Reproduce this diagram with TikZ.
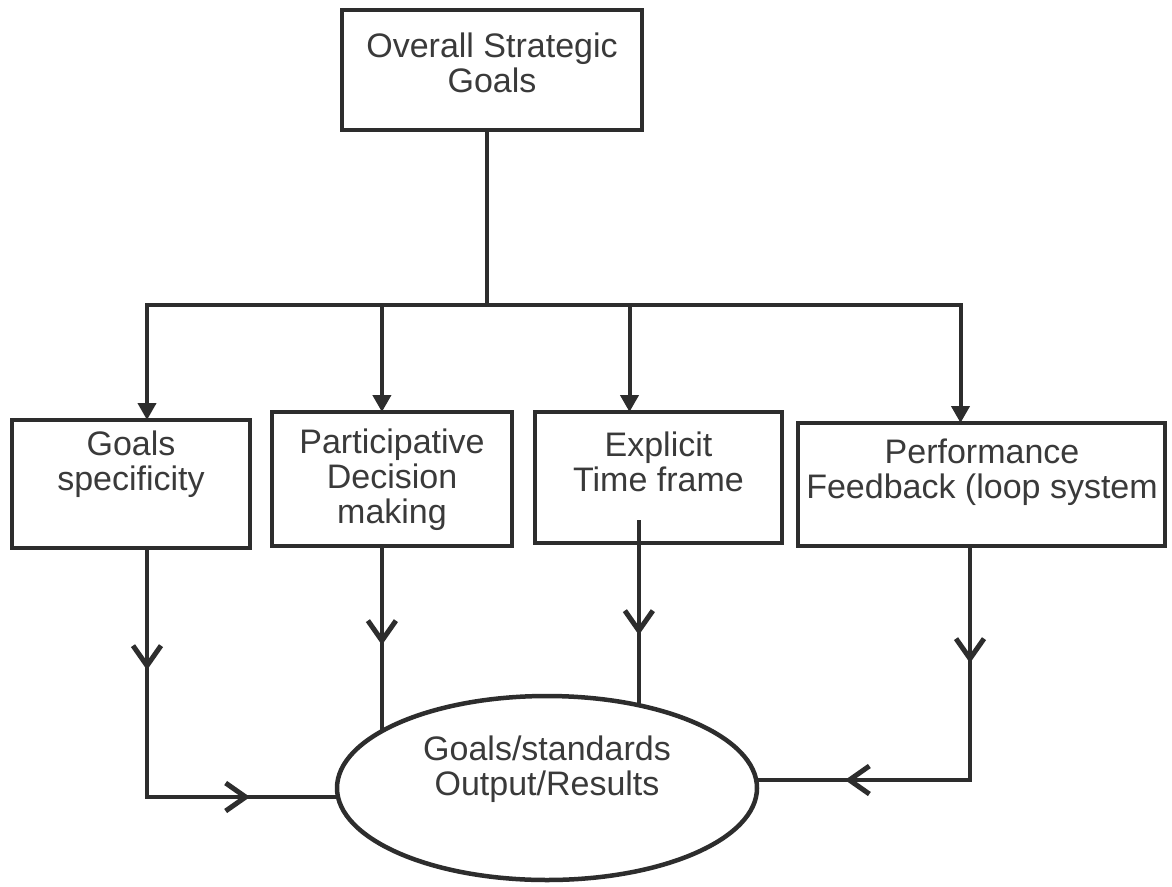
\documentclass[tikz,border=0pt]{standalone}
\usepackage{fontspec}
\setmainfont{Liberation Sans}
\usetikzlibrary{arrows.meta,shapes.geometric,decorations.markings}
\definecolor{ink}{RGB}{45,45,45}
\definecolor{txtc}{RGB}{58,58,58}
\begin{document}
\begin{tikzpicture}[x=1pt,y=-1pt,
  box/.style={draw=ink,line width=4.5pt,inner sep=0pt,outer sep=0pt},
  txt/.style={font=\fontsize{34}{35}\selectfont,text=txtc,align=center,inner sep=0pt},
  conn/.style={draw=ink,line width=4pt},
  tri/.style={conn,-{Triangle[length=17pt,width=18pt]}},
  vmark/.style={postaction={decorate},decoration={markings,
     mark=at position #1 with {\arrow{Straight Barb[length=20pt,width=28pt,line width=5pt]}}}},
  vmarktwo/.style 2 args={postaction={decorate},decoration={markings,
     mark=at position #1 with {\arrow{Straight Barb[length=20pt,width=28pt,line width=5pt]}},
     mark=at position #2 with {\arrow{Straight Barb[length=20pt,width=28pt,line width=5pt]}}}},
]
\useasboundingbox[fill=white] (0,0) rectangle (1172,886);

% boxes
\node[box,minimum width=300pt,minimum height=120pt] (top) at (492,70) {};
\node[box,minimum width=238pt,minimum height=128pt] (b1) at (131,484) {};
\node[box,minimum width=240pt,minimum height=134pt] (b2) at (392,479) {};
\node[box,minimum width=247pt,minimum height=131pt] (b3) at (658.5,477.5) {};
\node[box,minimum width=367pt,minimum height=123pt] (b4) at (981.5,484.5) {};
\node[box,ellipse,minimum width=420pt,minimum height=184pt] (goal) at (547,788) {};

% texts
\node[txt] (t0) at (492,63) {Overall Strategic\\Goals};
\node[txt] (t1) at (131,464) {Goals\\specificity};
\node[txt] (t2) at (392,480) {Participative\\Decision\\making};
\node[txt] (t3) at (658.5,462) {Explicit\\Time frame};
\node[txt] (t4) at (982,472) {Performance\\Feedback (loop system};
\node[txt] (tg) at (547,769) {Goals/standards\\Output/Results};

% distribution bus
\coordinate (bus) at (487,305);
\draw[conn] (top.south -| bus) -- (bus);
\draw[tri] (bus) -| ([xshift=16pt]b1.north);
\draw[tri] (bus) -| (b2.north -| goal.161);
\draw[tri] (bus) -| ([xshift=-29pt]b3.north);
\draw[tri] (bus) -| ([xshift=-21pt]b4.north);

% lines into the ellipse
\draw[conn,vmarktwo={122pt}{352pt}] ([xshift=16pt]b1.south) |- ([yshift=-9pt]goal.west);
\draw[conn,vmark={99pt}] (b2.south -| goal.161) -- (goal.161);
\draw[conn,vmark={115pt}] ([yshift=23pt]b3.south -| goal.42) -- (goal.42);
\draw[conn,vmarktwo={117pt}{359pt}] ([xshift=-11.5pt]b4.south) |- ([yshift=8pt]goal.east);
\end{tikzpicture}
\end{document}
